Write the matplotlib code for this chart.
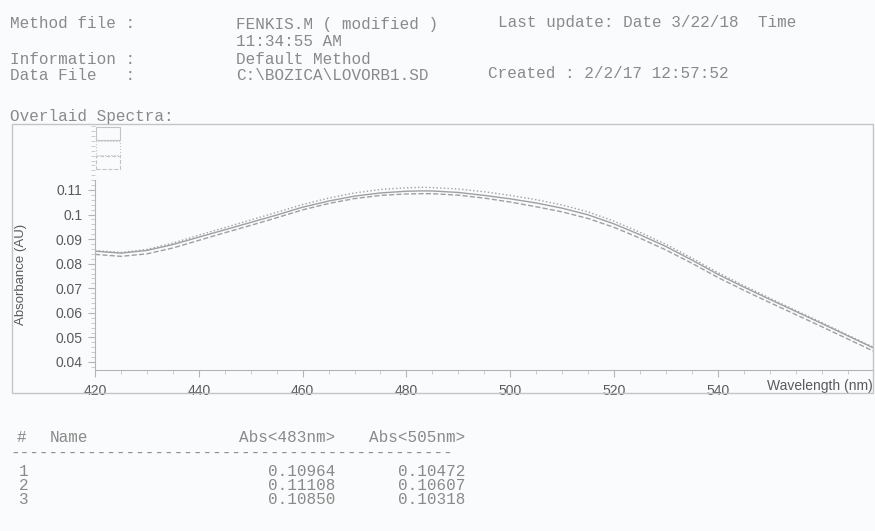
import matplotlib.pyplot as plt
from matplotlib.patches import Rectangle
from matplotlib.ticker import MultipleLocator

# spectra (absorbance, AU)
wavelength = [420, 425, 430, 435, 440, 445, 450, 455, 460, 465, 470, 475, 480, 483, 485,
              490, 495, 500, 505, 510, 515, 520, 525, 530, 535, 540, 545, 550, 555, 560, 565, 570]
spec1 = [0.0851, 0.0843, 0.0854, 0.0878, 0.0908, 0.0938, 0.0968, 0.0998, 0.1030, 0.1055, 0.1075,
         0.1088, 0.1095, 0.10964, 0.1096, 0.1090, 0.1078, 0.1064, 0.10472, 0.1026, 0.0999, 0.0962,
         0.0918, 0.0870, 0.0815, 0.0757, 0.0705, 0.0655, 0.0606, 0.0557, 0.0507, 0.0457]
spec2 = [0.0853, 0.0846, 0.0858, 0.0884, 0.0916, 0.0947, 0.0978, 0.1009, 0.1041, 0.1067, 0.1088,
         0.1102, 0.1109, 0.11108, 0.1110, 0.1104, 0.1093, 0.1078, 0.10607, 0.1039, 0.1011, 0.0973,
         0.0928, 0.0879, 0.0823, 0.0764, 0.0711, 0.0660, 0.0610, 0.0561, 0.0510, 0.0460]
spec3 = [0.0838, 0.0830, 0.0840, 0.0864, 0.0895, 0.0926, 0.0956, 0.0987, 0.1019, 0.1045, 0.1065,
         0.1078, 0.1084, 0.10850, 0.1085, 0.1079, 0.1067, 0.1051, 0.10318, 0.1011, 0.0984, 0.0948,
         0.0904, 0.0856, 0.0802, 0.0744, 0.0692, 0.0642, 0.0593, 0.0544, 0.0494, 0.0444]

xticks = [420, 440, 460, 480, 500, 520, 540]
yticks = [0.04, 0.05, 0.06, 0.07, 0.08, 0.09, 0.1, 0.11]
ytick_labels = ['0.04', '0.05', '0.06', '0.07', '0.08', '0.09', '0.1', '0.11']

table_ids = ['1', '2', '3']
abs_483 = ['0.10964', '0.11108', '0.10850']
abs_505 = ['0.10472', '0.10607', '0.10318']

W, H = 875, 531
bg = '#fafbfc'
txt = '#8a8a8a'
line_c = '#a0a0a0'
mono = ['Liberation Mono', 'DejaVu Sans Mono']
sans = ['Liberation Sans', 'DejaVu Sans']

fig = plt.figure(figsize=(W / 100, H / 100), dpi=100, facecolor=bg)

def ftext(x, y, s, **kw):
    # place text in pixel coords (top-left origin)
    kw.setdefault('family', mono)
    kw.setdefault('fontsize', 11.5)
    kw.setdefault('color', txt)
    kw.setdefault('va', 'center')
    fig.text(x / W, 1 - y / H, s, **kw)

# header
ftext(10, 24, 'Method file :')
ftext(236, 24, 'FENKIS.M ( modified )')
ftext(498, 22, 'Last update: Date 3/22/18  Time')
ftext(236, 42, '11:34:55 AM')
ftext(10, 60, 'Information :')
ftext(236, 60, 'Default Method')
ftext(10, 76, 'Data File   :')
ftext(236, 76, 'C:\\BOZICA\\LOVORB1.SD')
ftext(488, 74, 'Created : 2/2/17 12:57:52')
ftext(10, 117, 'Overlaid Spectra:')

# frame around the spectra
fig.patches.append(Rectangle((12 / W, 1 - 393 / H), (873 - 12) / W, (393 - 124) / H,
                             transform=fig.transFigure, fill=False, ec='#c4c4c4', lw=1))

ax = fig.add_axes([95 / W, 1 - 370 / H, (873 - 95) / W, (370 - 124) / H])
ax.set_facecolor('none')
ax.plot(wavelength, spec1, color=line_c, lw=1.0, ls='-')
ax.plot(wavelength, spec2, color=line_c, lw=1.0, ls=':')
ax.plot(wavelength, spec3, color=line_c, lw=1.0, ls='--')

ax.set_xlim(420, 569.9)
ax.set_ylim(0.03674, 0.13686)
ax.set_xticks(xticks)
ax.set_yticks(yticks)
ax.set_yticklabels(ytick_labels)
ax.xaxis.set_minor_locator(MultipleLocator(5))
ax.yaxis.set_minor_locator(MultipleLocator(0.002))
for s in ['top', 'right']:
    ax.spines[s].set_visible(False)
ax.spines['left'].set_bounds(0.03674, 0.114)
for s in ['left', 'bottom']:
    ax.spines[s].set_color('#b4b4b4')
    ax.spines[s].set_linewidth(0.8)
ax.tick_params(which='major', length=5, color='#b4b4b4', labelsize=10,
               labelcolor='#5a5a5a', labelfontfamily='Liberation Sans')
ax.tick_params(which='minor', length=3, color='#c4c4c4')
ax.tick_params(axis='x', pad=5)
ax.tick_params(axis='y', pad=4)
ax.set_ylabel('Absorbance (AU)', fontsize=9.5, color='#5a5a5a', family=sans)
ax.yaxis.set_label_coords(-0.088, 0.39)
ax.text(1.0, -0.065, 'Wavelength (nm)', transform=ax.transAxes, ha='right', va='center',
        fontsize=10, color='#5a5a5a', family=sans)

# legend swatches (no text)
for i, ls in enumerate(['-', ':', '--']):
    y0 = 127 + i * 14.5
    fig.patches.append(Rectangle((96 / W, 1 - (y0 + 13) / H), 24 / W, 13 / H,
                                 transform=fig.transFigure, fill=False, ec='#c4c4c4',
                                 lw=0.8, ls=ls))

# results table
ftext(17, 438, '#')
ftext(50, 438, 'Name')
ftext(335, 438, 'Abs<483nm>', ha='right')
ftext(465, 438, 'Abs<505nm>', ha='right')
ftext(10, 453, '-' * 46)
for i in range(len(table_ids)):
    y = 472 + i * 14
    ftext(19, y, table_ids[i])
    ftext(335, y, abs_483[i], ha='right')
    ftext(465, y, abs_505[i], ha='right')

fig.savefig('out.png', dpi=100, facecolor=bg)
